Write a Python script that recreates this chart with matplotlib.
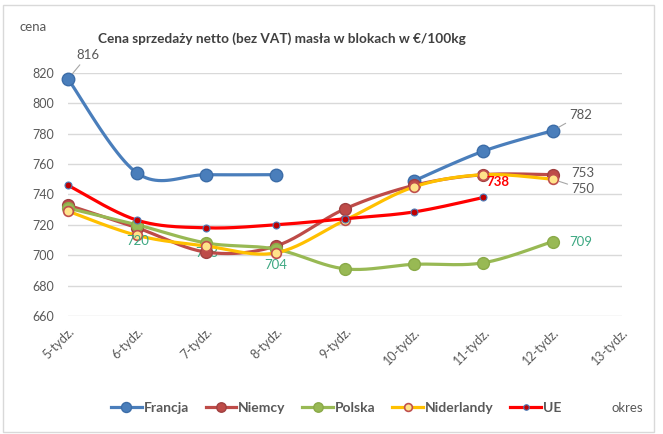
import numpy as np
import matplotlib.pyplot as plt
from matplotlib.patches import Rectangle

plt.rcParams['font.family'] = ['Lato', 'DejaVu Sans']

weeks = ['5-tydz.', '6-tydz.', '7-tydz.', '8-tydz.', '9-tydz.',
         '10-tydz.', '11-tydz.', '12-tydz.', '13-tydz.']
nan = np.nan
francja = [816, 754, 753, 753, nan, 749, 768.5, 782, nan]
niemcy = [733, 718, 702, 706, 730.5, 746, 753, 753, nan]
polska = [731, 720, 708, 704, 691, 694, 695, 709, nan]
niderlandy = [729, 713, 706, 701.5, 723, 745, 753, 750, nan]
ue = [746, 723, 718, 720, 724, 728.5, 738, nan, nan]

grey = '#595959'
green_lbl = '#3DA882'


def smooth(ys, n=24):
    # catmull-rom curve through each run of valid points (like excel smoothing)
    ys = np.asarray(ys, float)
    xs = np.arange(len(ys), dtype=float)
    runs, cur = [], []
    for i, v in enumerate(ys):
        if np.isnan(v):
            if cur:
                runs.append(cur)
            cur = []
        else:
            cur.append(i)
    if cur:
        runs.append(cur)
    out = []
    for r in runs:
        px, py = xs[r], ys[r]
        if len(r) == 1:
            out.append((px, py))
            continue
        X, Y = [px[0]], [py[0]]
        for k in range(len(r) - 1):
            p0 = (px[max(k - 1, 0)], py[max(k - 1, 0)])
            p1 = (px[k], py[k])
            p2 = (px[k + 1], py[k + 1])
            p3 = (px[min(k + 2, len(r) - 1)], py[min(k + 2, len(r) - 1)])
            c1 = (p1[0] + (p2[0] - p0[0]) / 6, p1[1] + (p2[1] - p0[1]) / 6)
            c2 = (p2[0] - (p3[0] - p1[0]) / 6, p2[1] - (p3[1] - p1[1]) / 6)
            t = np.linspace(0, 1, n)[1:]
            a, b, c, d = (1 - t) ** 3, 3 * (1 - t) ** 2 * t, 3 * (1 - t) * t ** 2, t ** 3
            X.extend(a * p1[0] + b * c1[0] + c * c2[0] + d * p2[0])
            Y.extend(a * p1[1] + b * c1[1] + c * c2[1] + d * p2[1])
        out.append((np.array(X), np.array(Y)))
    return out


fig = plt.figure(figsize=(6.63, 4.34), dpi=100)
fig.patches.append(Rectangle((0.005, 0.004), 0.982, 0.985, transform=fig.transFigure,
                             fill=False, edgecolor='#D9D9D9', lw=1))
ax = fig.add_axes([0.1026, 0.272, 0.8354, 0.56])

series = [
    ('Francja', francja, '#4A7EBB', dict(marker='o', ms=9, mfc='#4A7EBB', mec='#3C6DA8', mew=1)),
    ('Niemcy', niemcy, '#BE4B48', dict(marker='o', ms=8.5, mfc='#BE4B48', mec='#A04040', mew=1)),
    ('Polska', polska, '#98B954', dict(marker='o', ms=8.5, mfc='#98B954', mec='#8AAA48', mew=1)),
    ('Niderlandy', niderlandy, '#FFC000', dict(marker='o', ms=7, mfc='#FFE38A', mec='#C0504D', mew=1.2)),
    ('UE', ue, '#FF0000', dict(marker='o', ms=5, mfc='#C00000', mec='#4A7EBB', mew=0.8)),
]

xs = np.arange(len(weeks))
handles = []
for i, (name, vals, col, mk) in enumerate(series):
    for sx, sy in smooth(vals):
        ax.plot(sx, sy, color=col, lw=2.3, zorder=3 + i, solid_capstyle='round', clip_on=False)
    ax.plot(xs, vals, ls='none', zorder=3 + i, clip_on=False, **mk)
    h, = ax.plot([], [], color=col, lw=2.3, **mk)
    handles.append(h)

ax.set_xlim(0, 8)
ax.set_ylim(660, 820)
ax.set_yticks(np.arange(660, 821, 20))
ax.set_xticks(xs)
ax.set_xticklabels(weeks, rotation=45, ha='right', rotation_mode='anchor')
ax.tick_params(axis='both', length=0, colors=grey, labelsize=9)
ax.tick_params(axis='y', pad=10)
ax.tick_params(axis='x', pad=7)
for s in ax.spines.values():
    s.set_visible(False)
ax.grid(axis='y', color='#D9D9D9', lw=1)
ax.set_axisbelow(True)

lbl = dict(textcoords='offset pixels', fontsize=9.5, zorder=20)
lead = dict(arrowstyle='-', color='#A6A6A6', lw=0.8, shrinkA=1, shrinkB=5)
ax.annotate('816', (0, 816), xytext=(20, 24), ha='center', va='center', color=grey, arrowprops=lead, **lbl)
ax.annotate('782', (7, 782), xytext=(17, 16), ha='left', va='center', color=grey, arrowprops=lead, **lbl)
ax.annotate('753', (7, 753), xytext=(19, 2), ha='left', va='center', color=grey, **lbl)
ax.annotate('750', (7, 750), xytext=(19, -10), ha='left', va='center', color=grey, arrowprops=lead, **lbl)
ax.annotate('709', (7, 709), xytext=(17, 0), ha='left', va='center', color=green_lbl, **lbl)
ax.annotate('738', (6, 738), xytext=(14, 15), ha='center', va='center', color='#FF0000',
            fontweight='bold', textcoords='offset pixels', fontsize=9.5, zorder=20)
ax.annotate('720', (1, 720), xytext=(0, -16), ha='center', va='center', color=green_lbl, **lbl)
ax.annotate('708', (2, 708), xytext=(0, -10), ha='center', va='center', color=green_lbl,
            textcoords='offset pixels', fontsize=9.5, zorder=2)
ax.annotate('704', (3, 704), xytext=(0, -16), ha='center', va='center', color=green_lbl, **lbl)

fig.text(0.425, 0.912, 'Cena sprzedaży netto (bez VAT) masła w blokach w €/100kg',
         ha='center', va='center', fontsize=9.8, fontweight='bold', color='#404040')
fig.text(0.03, 0.938, 'cena', ha='left', va='center', fontsize=9.5, color=grey)
fig.text(0.922, 0.06, 'okres', ha='left', va='center', fontsize=9.5, color=grey)

fig.legend(handles, [s[0] for s in series], loc='center', bbox_to_anchor=(0.507, 0.06),
           ncol=5, frameon=False, handlelength=2.2, columnspacing=1.2, markerscale=0.8,
           handletextpad=0.15, prop={'weight': 'bold', 'size': 10})
for t in fig.legends[0].get_texts():
    t.set_color(grey)

fig.savefig('out.png', dpi=100)
